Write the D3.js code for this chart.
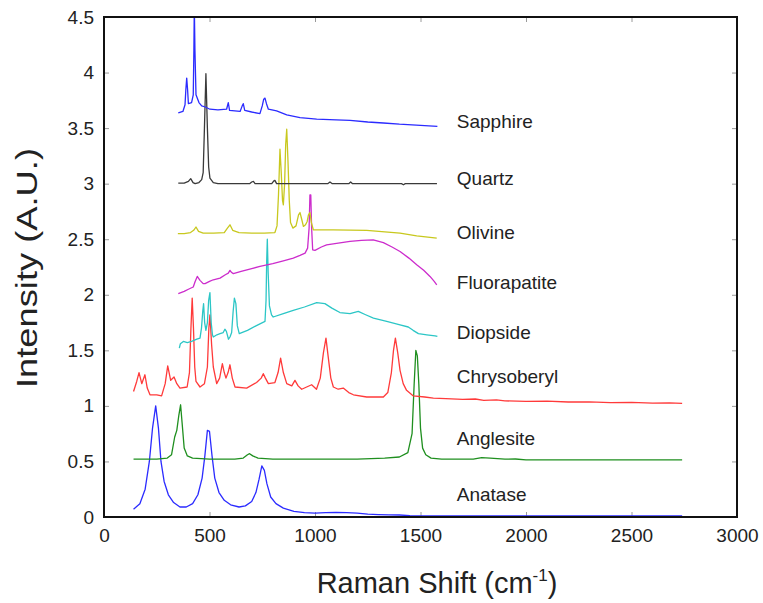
<!DOCTYPE html>
<html>
<head>
<meta charset="utf-8">
<script src="https://cdn.jsdelivr.net/npm/d3@7/dist/d3.min.js"></script>
<style>
  html, body { margin: 0; padding: 0; background: #fff; }
  svg { display: block; font-family: "Liberation Sans", Arial, sans-serif; }
</style>
</head>
<body>
<svg id="chart" width="763" height="603"></svg>
<script>
// Raman spectra of eight minerals, vertically offset: [shift cm^-1, intensity]
const anatase = [[140,0.07],[170,0.12],[195,0.25],[215,0.5],[230,0.8],[245,1.0],[258,0.8],[270,0.5],[285,0.32],[305,0.2],[330,0.13],[360,0.09],[390,0.09],[420,0.12],[445,0.2],[465,0.35],[478,0.55],[490,0.78],[500,0.77],[512,0.55],[525,0.35],[545,0.22],[570,0.15],[600,0.11],[640,0.09],[670,0.1],[700,0.14],[720,0.22],[735,0.34],[748,0.46],[760,0.42],[772,0.3],[790,0.18],[815,0.12],[850,0.08],[900,0.05],[950,0.04],[1000,0.035],[1050,0.04],[1100,0.042],[1150,0.04],[1200,0.035],[1250,0.025],[1300,0.022],[1350,0.02],[1400,0.018],[1450,0.012],[1600,0.01],[2000,0.01],[2740,0.01]];

const anglesite = [[140,0.52],[250,0.52],[300,0.53],[320,0.56],[335,0.72],[345,0.78],[355,0.92],[363,1.01],[370,0.85],[380,0.62],[395,0.55],[420,0.53],[500,0.52],[620,0.52],[660,0.53],[680,0.56],[690,0.57],[705,0.55],[730,0.53],[800,0.52],[1000,0.52],[1200,0.52],[1330,0.53],[1400,0.54],[1440,0.58],[1460,0.75],[1470,1.2],[1478,1.5],[1485,1.45],[1492,1.2],[1500,0.8],[1510,0.62],[1525,0.56],[1550,0.53],[1600,0.52],[1750,0.52],[1790,0.535],[1830,0.53],[1900,0.52],[1950,0.522],[2000,0.515],[2740,0.515]];

const chrysoberyl = [[140,1.13],[155,1.22],[166,1.30],[179,1.20],[194,1.28],[205,1.16],[218,1.10],[250,1.10],[273,1.09],[290,1.20],[302,1.36],[316,1.23],[332,1.26],[345,1.20],[360,1.16],[394,1.17],[405,1.30],[412,1.70],[418,1.97],[424,1.70],[430,1.35],[436,1.22],[455,1.17],[476,1.20],[490,1.35],[497,1.70],[502,1.82],[510,1.55],[518,1.35],[534,1.20],[548,1.25],[561,1.38],[570,1.30],[578,1.25],[588,1.30],[597,1.37],[608,1.25],[621,1.17],[676,1.16],[723,1.21],[745,1.25],[755,1.29],[765,1.25],[779,1.20],[810,1.21],[825,1.30],[837,1.43],[850,1.30],[866,1.20],[890,1.18],[905,1.23],[920,1.18],[937,1.15],[984,1.19],[1007,1.15],[1025,1.25],[1040,1.48],[1052,1.61],[1062,1.45],[1075,1.25],[1087,1.17],[1110,1.15],[1134,1.16],[1160,1.12],[1182,1.10],[1245,1.08],[1324,1.08],[1345,1.12],[1362,1.30],[1372,1.50],[1381,1.61],[1392,1.48],[1403,1.32],[1418,1.20],[1434,1.14],[1466,1.09],[1520,1.08],[1561,1.07],[1620,1.065],[1700,1.058],[1760,1.062],[1800,1.05],[1860,1.054],[1900,1.045],[2000,1.04],[2100,1.043],[2200,1.035],[2300,1.037],[2400,1.03],[2500,1.032],[2600,1.025],[2680,1.027],[2740,1.022]];

const diopside = [[357,1.52],[362,1.56],[376,1.58],[395,1.57],[415,1.58],[440,1.60],[455,1.61],[462,1.70],[468,1.85],[472,1.92],[477,1.75],[483,1.68],[490,1.75],[496,1.95],[502,2.02],[508,1.75],[514,1.64],[518,1.62],[535,1.64],[550,1.65],[565,1.66],[573,1.69],[580,1.67],[590,1.60],[597,1.62],[605,1.66],[612,1.85],[618,1.97],[625,1.92],[632,1.72],[641,1.65],[680,1.68],[720,1.72],[763,1.76],[768,1.95],[771,2.3],[774,2.50],[778,2.2],[784,1.9],[794,1.82],[802,1.80],[850,1.83],[897,1.86],[950,1.89],[1008,1.93],[1047,1.92],[1080,1.88],[1118,1.84],[1166,1.83],[1205,1.85],[1240,1.82],[1277,1.79],[1340,1.76],[1403,1.73],[1442,1.71],[1465,1.68],[1490,1.65],[1530,1.64],[1569,1.63],[1580,1.625]];

const fluorapatite = [[352,2.01],[380,2.03],[400,2.05],[423,2.07],[432,2.12],[442,2.165],[455,2.13],[470,2.10],[479,2.10],[500,2.12],[518,2.135],[550,2.15],[575,2.18],[589,2.195],[597,2.22],[605,2.20],[613,2.19],[650,2.21],[700,2.235],[739,2.255],[800,2.28],[850,2.305],[897,2.33],[929,2.355],[953,2.375],[965,2.42],[972,2.6],[976,2.9],[980,2.9],[984,2.6],[989,2.405],[1000,2.40],[1030,2.43],[1055,2.45],[1110,2.465],[1166,2.48],[1220,2.49],[1276,2.495],[1324,2.47],[1365,2.43],[1403,2.39],[1445,2.33],[1482,2.27],[1515,2.22],[1545,2.165],[1565,2.12],[1577,2.09]];

const olivine = [[350,2.55],[380,2.55],[410,2.56],[425,2.58],[436,2.61],[448,2.57],[470,2.555],[520,2.555],[570,2.56],[585,2.60],[597,2.63],[610,2.58],[640,2.56],[700,2.555],[760,2.555],[810,2.56],[820,2.62],[827,2.9],[834,3.31],[840,3.1],[846,2.85],[850,2.81],[856,3.0],[861,3.35],[866,3.49],[872,3.2],[878,2.85],[884,2.65],[895,2.60],[910,2.62],[922,2.72],[929,2.74],[937,2.68],[945,2.615],[955,2.63],[963,2.66],[969,2.72],[976,2.74],[983,2.65],[992,2.585],[1087,2.585],[1245,2.58],[1403,2.555],[1482,2.53],[1577,2.51]];

const quartz = [[352,3.005],[380,3.005],[400,3.02],[411,3.045],[422,3.01],[432,3.0],[450,3.01],[463,3.036],[470,3.1],[476,3.5],[483,3.99],[490,3.5],[496,3.15],[502,3.05],[518,3.01],[540,3.0],[690,3.0],[700,3.015],[708,3.02],[716,3.0],[795,3.0],[805,3.025],[810,3.03],[818,3.0],[1060,3.0],[1071,3.015],[1082,3.0],[1160,3.0],[1169,3.015],[1178,3.0],[1410,3.0],[1419,2.99],[1428,3.0],[1578,3.0]];

const sapphire = [[352,3.637],[374,3.65],[384,3.71],[388,3.85],[392,3.95],[396,3.85],[400,3.72],[415,3.73],[423,3.80],[426,4.2],[428,4.6],[431,4.2],[436,3.80],[450,3.73],[463,3.70],[480,3.69],[502,3.67],[540,3.665],[581,3.67],[589,3.73],[595,3.66],[645,3.65],[655,3.70],[660,3.72],[667,3.66],[700,3.645],[739,3.63],[750,3.70],[757,3.76],[763,3.77],[770,3.72],[779,3.67],[818,3.655],[866,3.62],[929,3.595],[1008,3.58],[1100,3.575],[1166,3.57],[1250,3.555],[1324,3.546],[1400,3.535],[1500,3.525],[1580,3.516]];

const seriesNames = ["Anatase","Anglesite","Chrysoberyl","Diopside","Fluorapatite","Olivine","Quartz","Sapphire"];
const seriesData = [anatase, anglesite, chrysoberyl, diopside, fluorapatite, olivine, quartz, sapphire];
const seriesColors = ["#2b2bff","#1f8f1f","#ff3a3a","#2cc6c6","#cc2ccc","#c8c81e","#3a3a3a","#2b2bff"];
// label anchor positions in data units (shift, intensity)
const labelPos = [[1672,0.19],[1672,0.69],[1672,1.25],[1672,1.645],[1672,2.095],[1672,2.545],[1672,3.03],[1672,3.55]];

const xTicks = [0,500,1000,1500,2000,2500,3000];
const yTicks = [0,0.5,1,1.5,2,2.5,3,3.5,4,4.5];

const svg = d3.select("#chart");
const m = {left:104, top:17, right:26, bottom:86};
const W = 763 - m.left - m.right, H = 603 - m.top - m.bottom;

const x = d3.scaleLinear().domain([0,3000]).range([0,W]);
const y = d3.scaleLinear().domain([0,4.5]).range([H,0]);

const g = svg.append("g").attr("transform",`translate(${m.left},${m.top})`);

svg.append("defs").append("clipPath").attr("id","plotclip")
  .append("rect").attr("width",W).attr("height",H);

// inward tick marks on all four sides
const tickStyle = sel => {
  sel.select(".domain").remove();
  sel.selectAll(".tick line").attr("stroke","#9a9a9a").attr("stroke-width",1);
};
g.append("g").attr("transform",`translate(0,${H})`)
  .call(d3.axisBottom(x).tickValues(xTicks).tickSize(-5).tickPadding(12).tickFormat(d3.format("d")))
  .call(tickStyle)
  .selectAll("text").attr("font-size",19).attr("fill","#222");
g.append("g")
  .call(d3.axisTop(x).tickValues(xTicks).tickSize(-5).tickFormat(""))
  .call(tickStyle);
g.append("g")
  .call(d3.axisLeft(y).tickValues(yTicks).tickSize(-5).tickPadding(10).tickFormat(d => d3.format("")(d)))
  .call(tickStyle)
  .selectAll("text").attr("font-size",19).attr("fill","#222");
g.append("g").attr("transform",`translate(${W},0)`)
  .call(d3.axisRight(y).tickValues(yTicks).tickSize(-5).tickFormat(""))
  .call(tickStyle);

// spectra
const line = d3.line().x(d => x(d[0])).y(d => y(d[1])).curve(d3.curveLinear);
const plot = g.append("g").attr("clip-path","url(#plotclip)");
seriesData.forEach((data,i) => {
  plot.append("path").datum(data)
    .attr("d",line)
    .attr("fill","none")
    .attr("stroke",seriesColors[i])
    .attr("stroke-width",1.3)
    .attr("stroke-linejoin","round");
});

// series labels
seriesNames.forEach((name,i) => {
  g.append("text")
    .attr("x",x(labelPos[i][0])).attr("y",y(labelPos[i][1]))
    .attr("dominant-baseline","middle")
    .attr("font-size",19).attr("fill","#222")
    .text(name);
});

// frame
g.append("rect").attr("width",W).attr("height",H)
  .attr("fill","none").attr("stroke","#111").attr("stroke-width",2);

// axis titles
svg.append("text")
  .attr("transform",`translate(37,268) rotate(-90)`)
  .attr("text-anchor","middle")
  .attr("font-size",30).attr("fill","#222")
  .attr("textLength",240).attr("lengthAdjust","spacingAndGlyphs")
  .text("Intensity (A.U.)");

const xt = svg.append("text")
  .attr("x",437).attr("y",593)
  .attr("text-anchor","middle")
  .attr("font-size",29).attr("fill","#222");
xt.append("tspan").text("Raman Shift (cm");
xt.append("tspan").attr("font-size",17).attr("dy",-12).text("-1");
xt.append("tspan").attr("dy",12).text(")");
</script>
</body>
</html>
